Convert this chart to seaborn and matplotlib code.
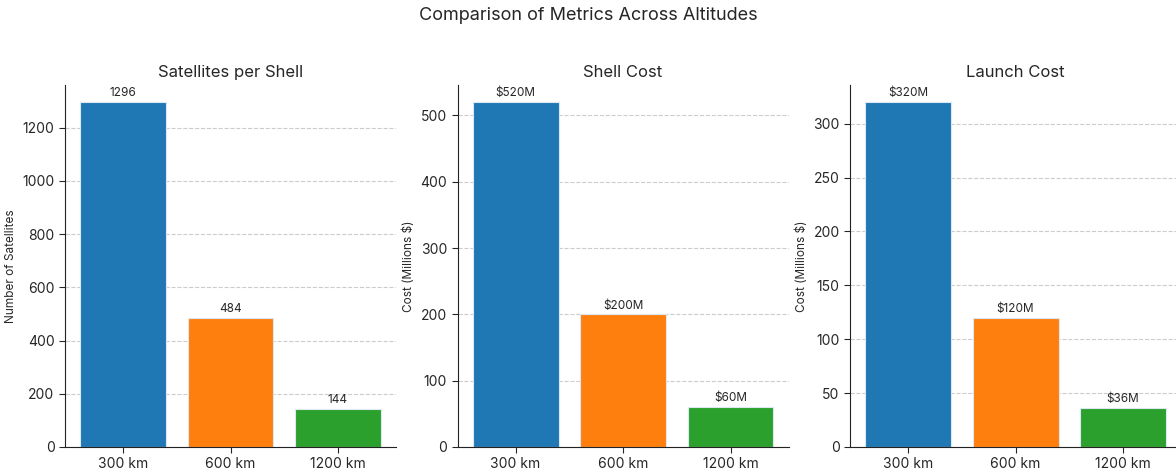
import pandas as pd
import matplotlib
matplotlib.use('Agg')
import matplotlib.pyplot as plt
import seaborn as sns

altitudes = ['300 km', '600 km', '1200 km']
satellites = [1296, 484, 144]
shell_cost = [520, 200, 60]
launch_cost = [320, 120, 36]

sns.set_style('white')
plt.rcParams['font.family'] = ['Inter', 'DejaVu Sans']
colors = sns.color_palette('tab10', 3)

df = pd.DataFrame({'Altitude': altitudes, 'Satellites': satellites,
                   'Shell': shell_cost, 'Launch': launch_cost})

panels = [
    ('Satellites', 'Satellites per Shell', 'Number of Satellites', '{:d}'),
    ('Shell', 'Shell Cost', 'Cost (Millions $)', '${:d}M'),
    ('Launch', 'Launch Cost', 'Cost (Millions $)', '${:d}M'),
]

fig, axes = plt.subplots(1, 3, figsize=(11.76, 4.69), dpi=100)
fig.subplots_adjust(left=0.0553, right=1.0043, bottom=0.047, top=0.819, wspace=0.186)

for ax, (col, title, ylabel, fmt) in zip(axes, panels):
    sns.barplot(data=df, x='Altitude', y=col, hue='Altitude', palette=colors,
                legend=False, ax=ax, width=0.8, edgecolor='#dce9f5', linewidth=0.8,
                saturation=1)
    ax.set_title(title, fontsize=12)
    ax.set_xlabel('')
    ax.set_ylabel(ylabel, fontsize=8.5)
    ax.set_xlim(-0.54, len(altitudes) - 0.46)
    ax.set_ylim(0, df[col].max() * 1.05)
    ax.yaxis.grid(True, linestyle='--', color='#cccccc', linewidth=0.8)
    ax.set_axisbelow(True)
    ax.tick_params(axis='both', labelsize=10, length=4, left=True, bottom=True)
    for spine in ['left', 'bottom']:
        ax.spines[spine].set_color('#222222')
    sns.despine(ax=ax)
    for cont in ax.containers:
        ax.bar_label(cont, labels=[fmt.format(int(v)) for v in cont.datavalues],
                     fontsize=8.5, padding=2)

fig.suptitle('Comparison of Metrics Across Altitudes', fontsize=13, y=0.985)

fig.savefig('out.png', dpi=100)
